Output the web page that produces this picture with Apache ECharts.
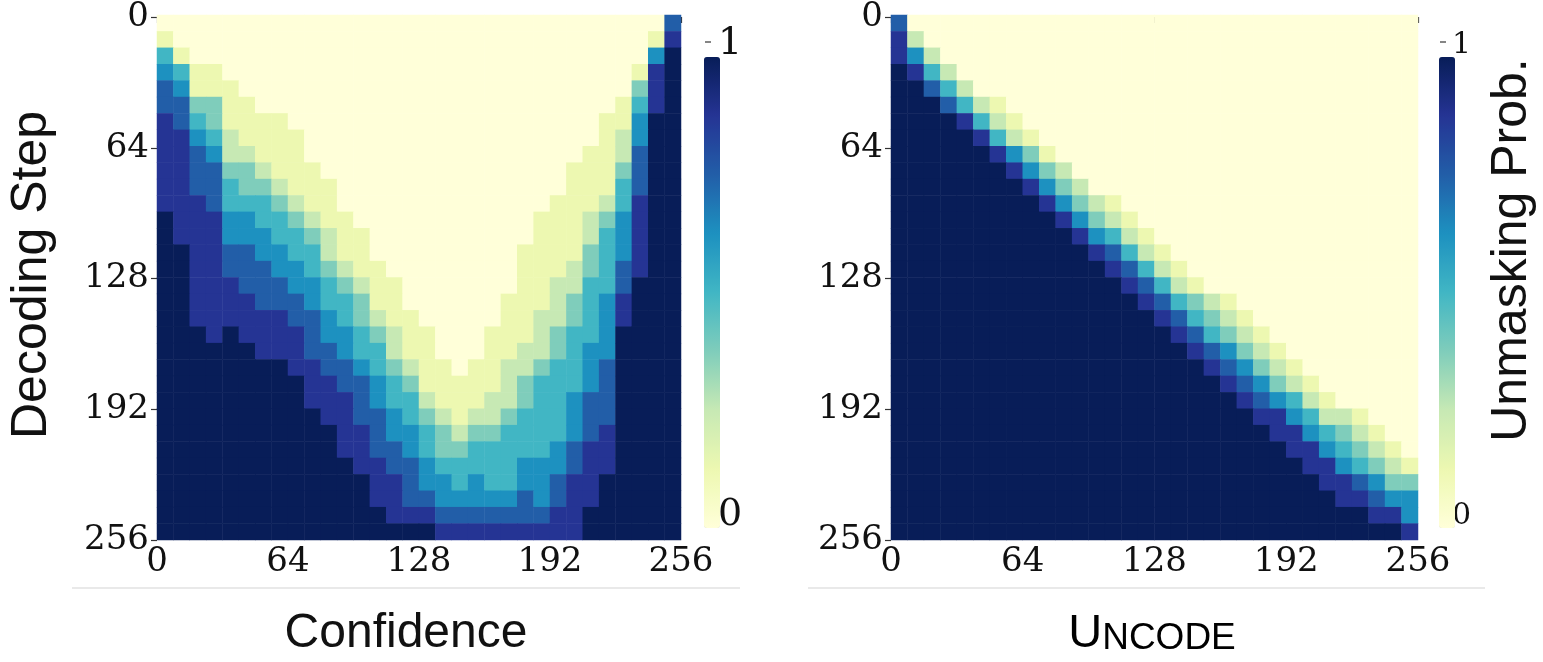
<!DOCTYPE html>
<html>
<head>
<meta charset="utf-8">
<script src="https://cdn.jsdelivr.net/npm/echarts@6/dist/echarts.min.js"></script>
<style>
  html, body { margin: 0; padding: 0; background: #fff; }
  #chart { width: 1543px; height: 662px; }
</style>
</head>
<body>
<div id="chart"></div>
<script>
// 32 x 32 grid, each cell = 8 tokens x 8 decoding steps. level 0..8 (0 = masked, 8 = unmasked)
// rows are run-length strings: "8*5" means five cells of level 8
const confidenceRows = [
  '0*31 6',
  '1 0*29 1 7',
  '4 1 0*28 5 8',
  '5 4 1 1 0*25 1 7 8',
  '6 5 1 1 1 0*24 3 7 8',
  '6 6 3 3 1 1 0*22 1 4 7 8',
  '7 6 4 3 1 1 1 1 0*19 1 1 5 8 8',
  '7 7 5 4 2 1 1 1 1 0*18 1 2 5 8 8',
  '7 7 6 5 2 2 1 1 1 0*17 1 1 2 6 8 8',
  '7 7 6 6 3 3 2 1 1 1 0*15 1 1 1 3 6 8 8',
  '7 7 6 6 4 3 3 2 1 1 1 0*14 1 1 1 4 6 8 8',
  '7 7 7 6 4 4 4 3 2 1 1 0*13 1 1 1 2 4 7 8 8',
  '8 7 7 7 5 5 4 4 3 2 1 1 0*11 1 1 1 2 3 5 7 8 8',
  '8 7 7 7 5 5 5 4 4 3 2 1 1 0*10 1 1 1 2 4 5 7 8 8',
  '8 8 7 7 6 6 5 5 4 4 2 1 1 0*9 1 1 1 1 3 4 5 7 8 8',
  '8 8 7 7 6 6 6 5 5 4 3 2 1 1 0*8 1 1 1 2 3 4 6 7 8 8',
  '8 8 7 7 7 6 6 6 5 5 4 3 2 1 1 0*7 1 1 2 2 4 4 6 8 8 8',
  '8 8 7 7 7 7 6 6 6 5 4 4 3 1 1 0*6 1 1 1 2 3 4 5 7 8 8 8',
  '8 8 7 7 7 7 7 7 6 6 5 4 3 2 1 1 0*5 1 1 2 2 3 4 5 7 8 8 8',
  '8 8 8 7 8 7 7 7 7 6 5 5 4 3 2 1 1 0*3 1 1 1 2 3 4 4 5 8 8 8 8',
  '8*6 7 7 7 6 6 5 4 4 2 1 1 0*3 1 1 2 2 3 4 5 5 8 8 8 8',
  '8*8 7 7 6 6 5 4 3 2 1 1 0 1 1 2 2 3 4 4 5 6 8 8 8 8',
  '8*9 7 7 6 6 5 4 3 1 1 1 1 1 2 3 4 4 4 5 6 8 8 8 8',
  '8*9 7 7 7 6 5 4 4 2 1 1 1 2 2 3 4 4 5 6 6 8 8 8 8',
  '8*10 7 7 6 6 5 4 3 2 1 2 2 3 4 4 4 5 6 6 8 8 8 8',
  '8*11 7 7 6 5 5 4 3 2 3 3 4 4 4 4 5 6 7 8 8 8 8',
  '8*11 7 7 6 6 5 4 3 3 4 4 4 4 4 5 6 7 7 8 8 8 8',
  '8*12 7 7 6 6 5 4 4 4 4 4 5 5 5 6 7 7 8 8 8 8',
  '8*13 7 7 6 5 5 4 5 4 4 5 5 6 7 7 8*5',
  '8*13 7 7 6 6 5 5 5 5 5 6 5 6 7 7 8*5',
  '8*14 7 7 7 6 6 6 6 6 6 6 7 7 8*6',
  '8*17 7*9 8*6'
];

const uncodeRows = [
  '6 0*31',
  '7 2 0*30',
  '7 5 2 0*29',
  '8 7 4 2 0*28',
  '8 8 6 4 2 0*27',
  '8 8 8 6 4 2 1 0*25',
  '8*4 7 4 2 1 0*24',
  '8*5 7 4 2 1 0*23',
  '8*6 7 5 3 1 0*22',
  '8*7 7 5 3 2 0*21',
  '8*8 7 5 3 2 0*20',
  '8*9 7 5 3 2 1 0*18',
  '8*10 7 5 3 2 1 0*17',
  '8*11 7 5 4 2 1 0*16',
  '8*12 7 6 4 2 1 0*15',
  '8*13 7 6 4 2 1 0*14',
  '8*14 7 6 4 2 1 0*13',
  '8*15 7 6 4 3 2 1 0*11',
  '8*16 7 6 4 3 2 1 0*10',
  '8*17 7 6 4 3 2 1 0*9',
  '8*18 7 6 5 3 2 1 0*8',
  '8*19 7 6 5 3 2 1 0*7',
  '8*20 7 6 5 3 2 1 0*6',
  '8*21 7 6 5 4 2 1 0*5',
  '8*22 7 7 5 4 2 2 1 0*3',
  '8*23 7 7 5 4 3 2 1 0*2',
  '8*24 7 7 5 4 3 2 1 0',
  '8*25 7 7 5 4 3 2 1',
  '8*26 7 7 6 5 3 3',
  '8*27 7 7 6 5 5',
  '8*29 7 7 5',
  '8*31 7'
];

const tickLabels = [0, 64, 128, 192, 256];
const ylgnbu = ['#ffffd9', '#edf8b1', '#c7e9b4', '#7fcdbb', '#41b6c4', '#1d91c0', '#225ea8', '#253494', '#081d58'];

function expandRow(s) {
  const out = [];
  s.trim().split(/\s+/).forEach(tok => {
    const [v, n] = tok.split('*');
    for (let i = 0; i < (n ? +n : 1); i++) out.push(+v);
  });
  if (out.length !== 32) throw new Error('bad row: ' + s + ' (' + out.length + ')');
  return out;
}

function toCells(rows) {
  const data = [];
  rows.forEach((s, r) => {
    expandRow(s).forEach((v, c) => data.push([c, r, v]));
  });
  return data;
}

const cats = Array.from({ length: 32 }, (_, i) => i);
const serif = 'DejaVu Serif';
const sans = 'Liberation Sans';

const grids = [
  { left: 157, top: 15, width: 524, height: 525 },
  { left: 891, top: 15, width: 527, height: 525 }
];

const catX = i => ({ type: 'category', gridIndex: i, data: cats, show: false });
const catY = i => ({ type: 'category', gridIndex: i, data: cats, show: false, inverse: true });
const valAxis = (i, isY) => ({
  type: 'value', gridIndex: i, min: 0, max: 256, interval: 64, inverse: isY,
  axisLine: { show: false },
  axisTick: { show: true, length: 6, lineStyle: { color: '#333', width: 1.2 } },
  splitLine: { show: false },
  axisLabel: {
    fontFamily: serif, fontSize: 34, color: '#111', margin: isY ? 8 : 5,
    formatter: v => (tickLabels.indexOf(v) >= 0 ? String(v) : '')
  }
});

const option = {
  backgroundColor: '#fff',
  animation: false,
  grid: [grids[0], grids[1], grids[0], grids[1]],
  xAxis: [catX(0), catX(1), valAxis(2, false), valAxis(3, false)],
  yAxis: [catY(0), catY(1), valAxis(2, true), valAxis(3, true)],
  visualMap: [
    {
      type: 'continuous', seriesIndex: 0, min: 0, max: 8, calculable: false,
      orient: 'vertical', left: 689, top: 42, itemWidth: 16, itemHeight: 471,
      text: ['', ''], showLabel: false, inRange: { color: ylgnbu }
    },
    {
      type: 'continuous', seriesIndex: 1, min: 0, max: 8, calculable: false,
      orient: 'vertical', left: 1424, top: 42, itemWidth: 16, itemHeight: 471,
      text: ['', ''], showLabel: false, inRange: { color: ylgnbu }
    }
  ],
  series: [
    {
      type: 'heatmap', xAxisIndex: 0, yAxisIndex: 0, data: toCells(confidenceRows),
      emphasis: { disabled: true }, progressive: 0
    },
    {
      type: 'heatmap', xAxisIndex: 1, yAxisIndex: 1, data: toCells(uncodeRows),
      emphasis: { disabled: true }, progressive: 0
    }
  ],
  graphic: [
    // colorbar ticks and labels
    { type: 'line', shape: { x1: 705, y1: 42, x2: 711, y2: 42 }, style: { stroke: '#333', lineWidth: 1.2 } },
    { type: 'line', shape: { x1: 705, y1: 513, x2: 711, y2: 513 }, style: { stroke: '#333', lineWidth: 1.2 } },
    { type: 'text', x: 718, y: 44, style: { text: '1', font: '38px "DejaVu Serif"', fill: '#111', verticalAlign: 'middle' } },
    { type: 'text', x: 718, y: 515, style: { text: '0', font: '38px "DejaVu Serif"', fill: '#111', verticalAlign: 'middle' } },
    { type: 'line', shape: { x1: 1440, y1: 42, x2: 1446, y2: 42 }, style: { stroke: '#333', lineWidth: 1.2 } },
    { type: 'line', shape: { x1: 1440, y1: 513, x2: 1446, y2: 513 }, style: { stroke: '#333', lineWidth: 1.2 } },
    { type: 'text', x: 1452, y: 45, style: { text: '1', font: '30px "DejaVu Serif"', fill: '#111', verticalAlign: 'middle' } },
    { type: 'text', x: 1452, y: 516, style: { text: '0', font: '30px "DejaVu Serif"', fill: '#111', verticalAlign: 'middle' } },
    // axis titles
    {
      type: 'text', x: 32, y: 275, rotation: Math.PI / 2,
      style: { text: 'Decoding Step', font: '50px "Liberation Sans"', fill: '#111', align: 'center', verticalAlign: 'middle' }
    },
    {
      type: 'text', x: 1512, y: 250, rotation: Math.PI / 2,
      style: { text: 'Unmasking Prob.', font: '50px "Liberation Sans"', fill: '#111', align: 'center', verticalAlign: 'middle' }
    },
    {
      type: 'text', x: 406, y: 634,
      style: { text: 'Confidence', font: '48px "Liberation Sans"', fill: '#111', align: 'center', verticalAlign: 'middle' }
    },
    {
      type: 'text', x: 1152, y: 634,
      style: {
        text: '{a|U}{b|NCODE}', align: 'center', verticalAlign: 'middle',
        rich: {
          a: { fontFamily: sans, fontSize: 47, color: '#111', verticalAlign: 'bottom' },
          b: { fontFamily: sans, fontSize: 37, color: '#111', verticalAlign: 'bottom' }
        }
      }
    },
    // light separators under the panels
    { type: 'line', shape: { x1: 72, y1: 588, x2: 740, y2: 588 }, style: { stroke: '#e2e2e2', lineWidth: 1.5 } },
    { type: 'line', shape: { x1: 808, y1: 588, x2: 1485, y2: 588 }, style: { stroke: '#e2e2e2', lineWidth: 1.5 } }
  ]
};

const chart = echarts.init(document.getElementById('chart'));
chart.setOption(option);
</script>
</body>
</html>
